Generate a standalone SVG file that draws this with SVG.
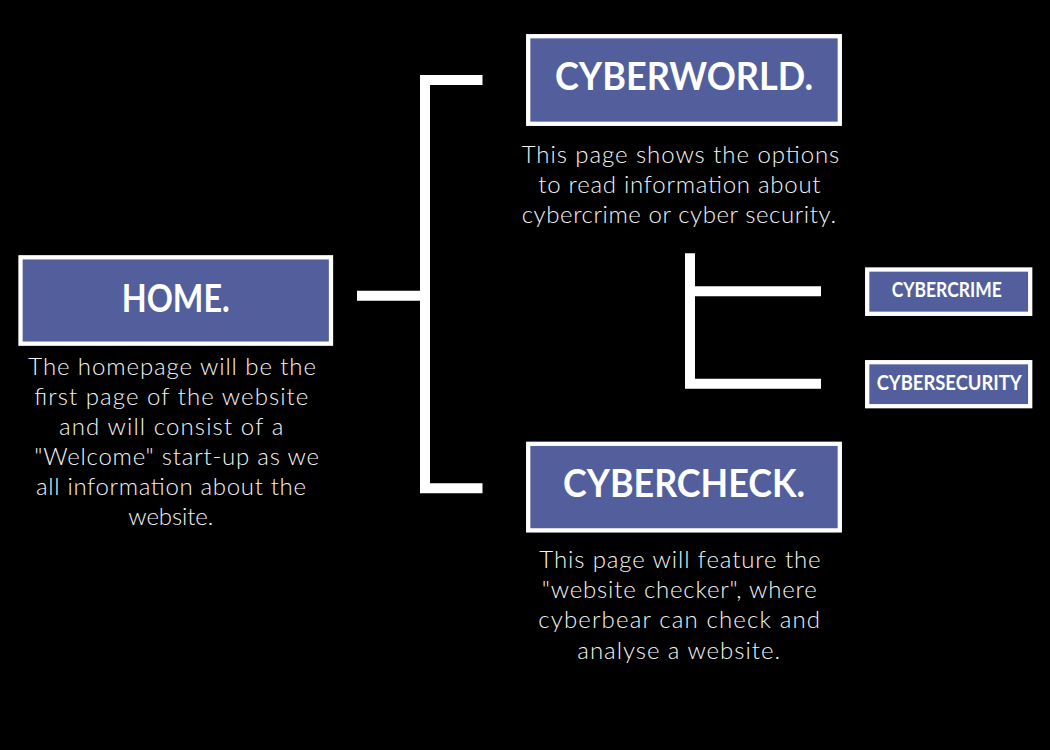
<svg xmlns="http://www.w3.org/2000/svg" width="1050" height="750" viewBox="0 0 1050 750">
<style>
.box{fill:#525F9C;stroke:#ffffff;stroke-width:4.3}
.h1{font-family:Lato,"Liberation Sans",sans-serif;font-weight:700;font-size:38px;fill:#ffffff}
.h2{font-family:Lato,"Liberation Sans",sans-serif;font-weight:700;font-size:20px;fill:#ffffff}
.body{font-family:Lato,"Liberation Sans",sans-serif;font-weight:300;font-size:24px;fill:#f4f4f4}
.conn{fill:none;stroke:#ffffff;stroke-width:10;stroke-linecap:butt;stroke-linejoin:miter}
</style>
<rect x="0" y="0" width="1050" height="750" fill="#000000"/>
<g id="connectors">
<path class="conn" d="M357,295.7 H425"/>
<path class="conn" d="M482.5,80 H425 V488.3 H482.5"/>
<path class="conn" d="M690,253.3 V383.8 H821"/>
<path class="conn" d="M690,291.3 H821"/>
</g>
<g id="home">
<rect class="box" x="20.5" y="257.3" width="310.5" height="86.4"/>
<text class="h1" x="121.7" y="311.7" textLength="108" lengthAdjust="spacingAndGlyphs">HOME.</text>
<text class="body" x="28.3" y="375" textLength="287.7" lengthAdjust="spacing">The homepage will be the</text>
<text class="body" x="34.3" y="405" textLength="274" lengthAdjust="spacing">first page of the website</text>
<text class="body" x="59" y="435" textLength="224.3" lengthAdjust="spacing">and will consist of a</text>
<text class="body" x="34.3" y="465" textLength="284.7" lengthAdjust="spacing">"Welcome" start-up as we</text>
<text class="body" x="36" y="495" textLength="270" lengthAdjust="spacing">all information about the</text>
<text class="body" x="128.3" y="525" textLength="85" lengthAdjust="spacing">website.</text>
</g>
<g id="cyberworld">
<rect class="box" x="528.2" y="36.2" width="311.6" height="87.6"/>
<text class="h1" x="555" y="90" textLength="258" lengthAdjust="spacingAndGlyphs">CYBERWORLD.</text>
<text class="body" x="521.7" y="162.7" textLength="317.6" lengthAdjust="spacing">This page shows the options</text>
<text class="body" x="538.3" y="193.3" textLength="282.3" lengthAdjust="spacing">to read information about</text>
<text class="body" x="521.7" y="223" textLength="314.3" lengthAdjust="spacing">cybercrime or cyber security.</text>
</g>
<g id="cybercheck">
<rect class="box" x="528.2" y="443.8" width="311.6" height="86.6"/>
<text class="h1" x="563" y="496.7" textLength="242" lengthAdjust="spacingAndGlyphs">CYBERCHECK.</text>
<text class="body" x="539.3" y="568.3" textLength="281.3" lengthAdjust="spacing">This page will feature the</text>
<text class="body" x="541.7" y="598.3" textLength="275" lengthAdjust="spacing">"website checker", where</text>
<text class="body" x="538.3" y="628.3" textLength="281.7" lengthAdjust="spacing">cyberbear can check and</text>
<text class="body" x="577.3" y="658.5" textLength="202.7" lengthAdjust="spacing">analyse a website.</text>
</g>
<g id="cybercrime">
<rect class="box" x="867.2" y="269.5" width="163" height="44.3"/>
<text class="h2" x="891.7" y="297.3" textLength="110" lengthAdjust="spacingAndGlyphs">CYBERCRIME</text>
</g>
<g id="cybersecurity">
<rect class="box" x="867.2" y="362.2" width="163" height="44"/>
<text class="h2" x="876.7" y="390" textLength="145" lengthAdjust="spacingAndGlyphs">CYBERSECURITY</text>
</g>
</svg>
